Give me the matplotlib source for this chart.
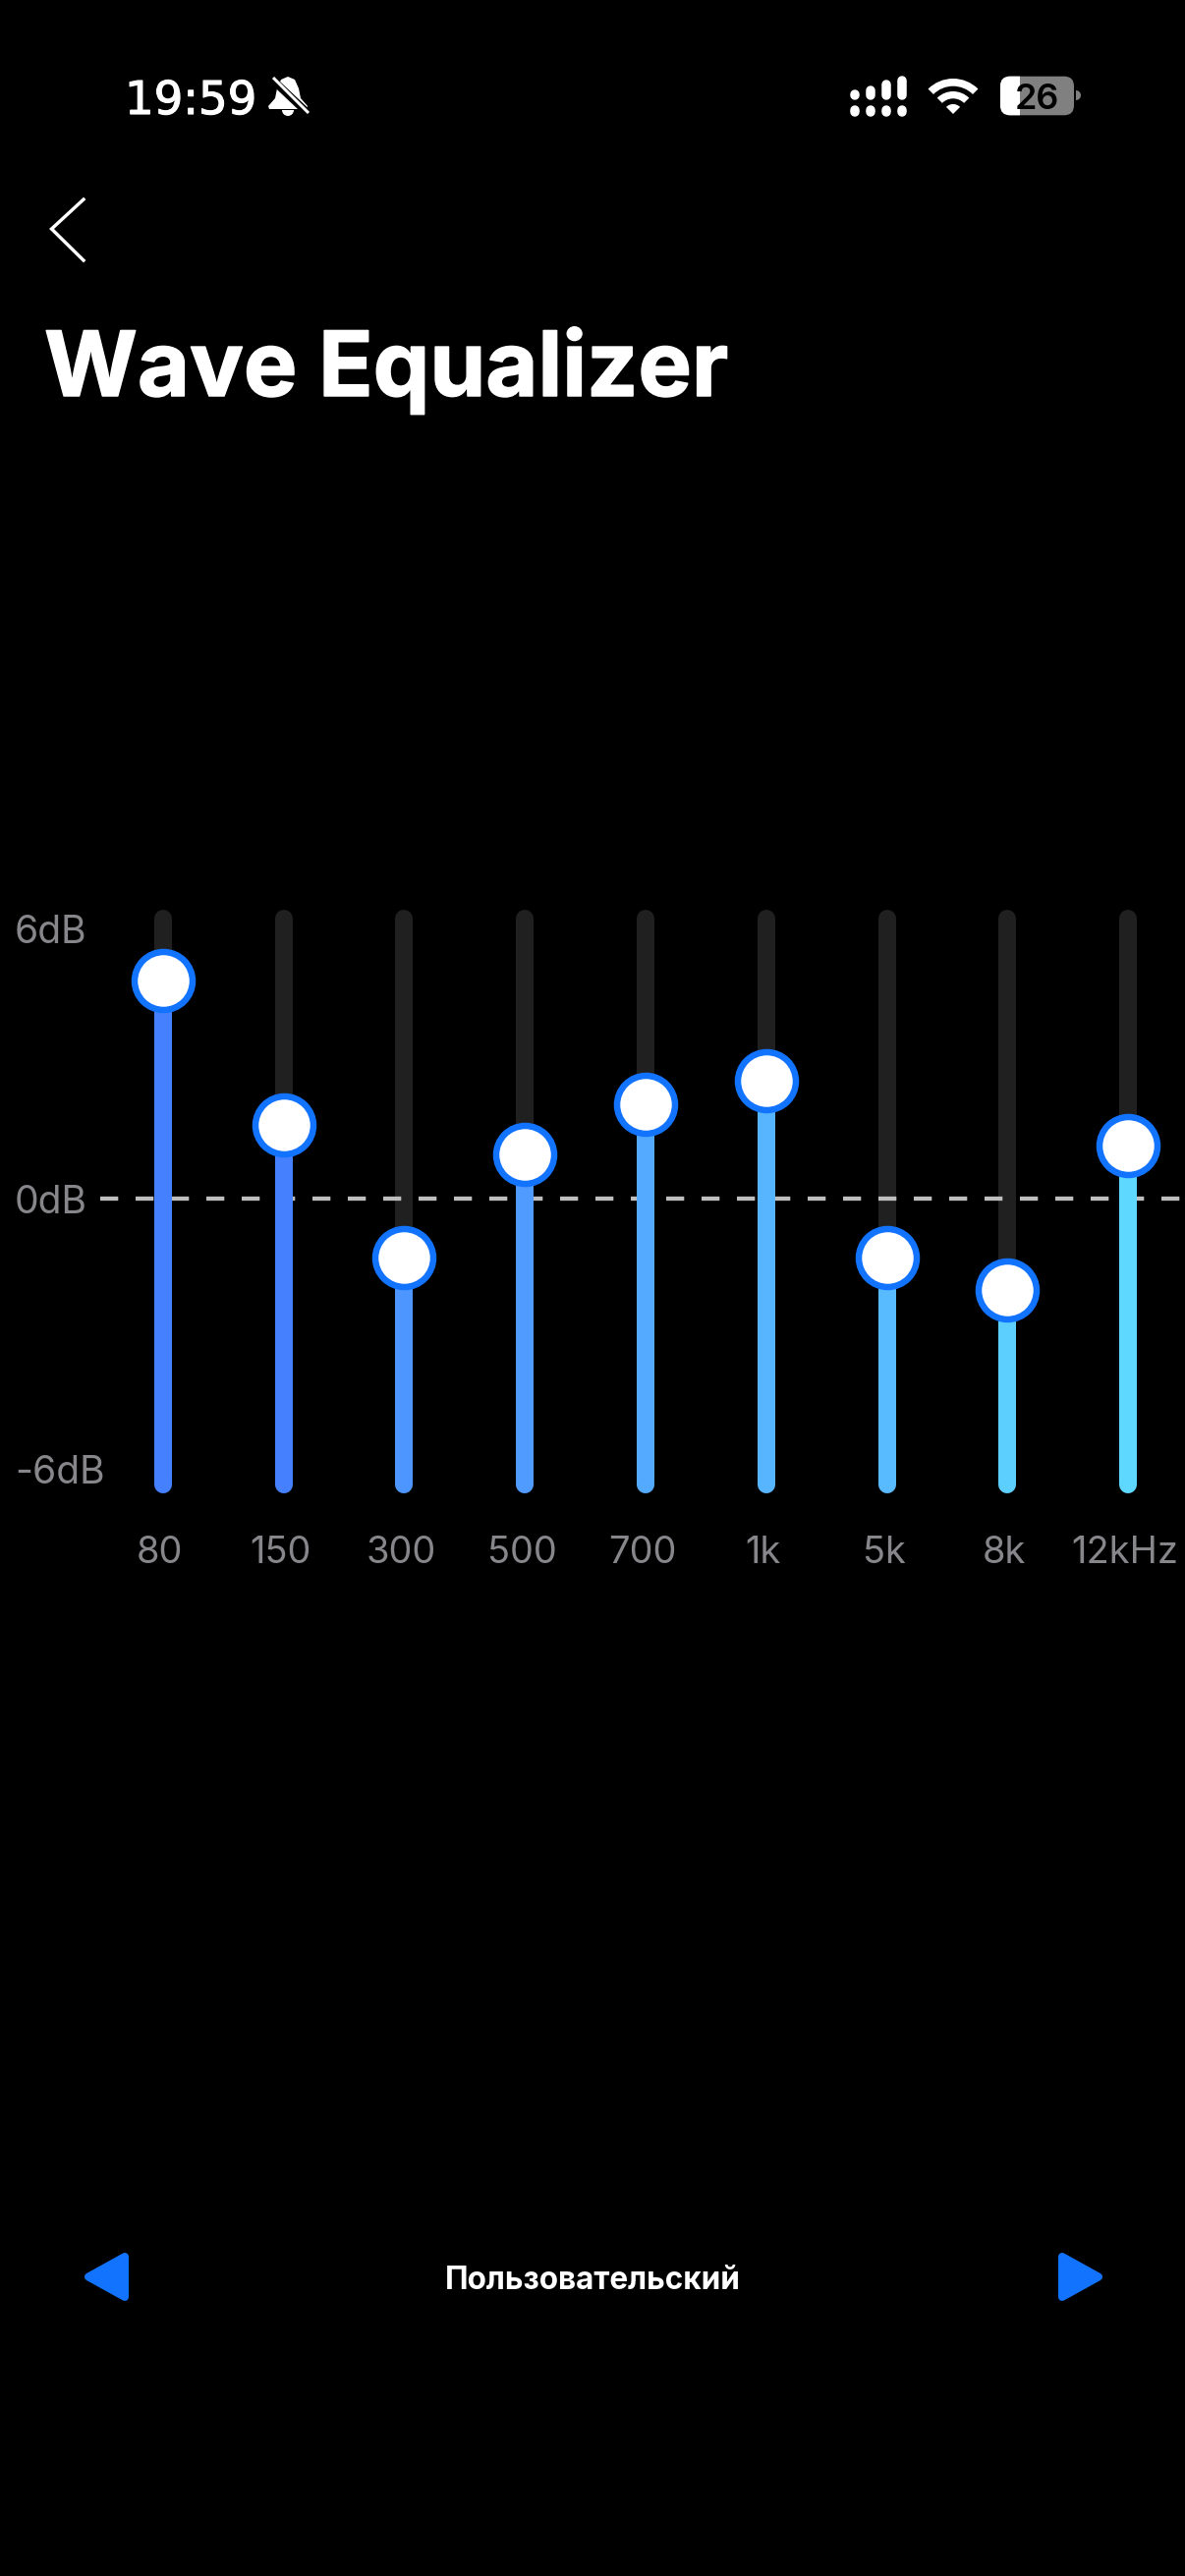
import matplotlib
matplotlib.use("Agg")
import matplotlib.pyplot as plt
import matplotlib.patheffects as pe
from matplotlib.patches import FancyBboxPatch, Polygon, Rectangle, Wedge
from matplotlib.transforms import blended_transform_factory

W, H = 1206, 2622
DPI = 100
px = 72 / DPI  # one pixel in points

# --- data ---
bands = ["80", "150", "300", "500", "700", "1k", "5k", "8k", "12kHz"]
gains = [4.85, 1.64, -1.30, 0.99, 2.10, 2.63, -1.30, -2.03, 1.18]
band_colors = ["#4580FF", "#4580FF", "#4D96FF", "#4F9BFF", "#54AAFF",
               "#57B4FF", "#58BBFF", "#5CCFFF", "#5FD8FF"]
db_ticks = [6, 0, -6]
db_labels = ["6dB", "0dB", "-6dB"]

track_top = 6.22
track_bottom = -6.35

GREY = "#86868B"
BLUE = "#1273FF"
plt.rcParams["font.family"] = ["Inter", "DejaVu Sans"]

fig = plt.figure(figsize=(W / DPI, H / DPI), dpi=DPI, facecolor="black")

# --- pixel layer for the phone chrome ---
ui = fig.add_axes([0, 0, 1, 1], zorder=1)
ui.set_xlim(0, W)
ui.set_ylim(H, 0)
ui.axis("off")

# --- equalizer axes: x = band index, y = dB ---
ax = fig.add_axes([0, (H - 1520) / H, 1, 594 / H], zorder=2)
ax.patch.set_alpha(0)
ax.set_xlim(-165.7 / 122.8, (W - 165.7) / 122.8)
ax.set_ylim(-6.55, 6.42)
ax.axis("off")

xs = list(range(len(bands)))
ax.vlines(xs, track_bottom, track_top, color="#202020", lw=18 * px, capstyle="round", zorder=1)
ax.plot([-0.52, 8.47], [0, 0], color="#BEBEBE", lw=4.3 * px, zorder=2,
        dashes=(18.3 / 4.3, 17.7 / 4.3), dash_capstyle="butt", clip_on=False)
ax.vlines(xs, track_bottom, gains, color=band_colors, lw=18 * px, capstyle="round", zorder=3)
ax.scatter(xs, gains, s=(59 * px) ** 2, facecolor="white", edgecolor=BLUE,
           linewidth=6.5 * px, zorder=4, clip_on=False)

# band labels under the tracks
for x, name in zip(xs, bands):
    ax.annotate(name, (x, track_bottom), xytext=(-3, -80), textcoords="offset pixels",
                ha="center", va="baseline", color=GREY, fontsize=38 * px, fontweight="normal",
                annotation_clip=False)

# dB labels on the left edge
tr = blended_transform_factory(ax.transAxes, ax.transData)
for d, lab in zip(db_ticks, db_labels):
    ax.annotate(lab, (15 / W, d), xycoords=tr, xytext=(0, -15), textcoords="offset pixels",
                ha="left", va="baseline", color=GREY, fontsize=39 * px, fontweight="normal",
                annotation_clip=False)

# --- status bar ---
ui.text(127, 116, "19:59", color="white", fontsize=46.6 * px, family="DejaVu Sans", ha="left", va="baseline",
        path_effects=[pe.withStroke(linewidth=1.2 * px, foreground="white")])

# bell with slash
bell = [(293, 78), (300, 81), (304, 90), (306, 100), (313, 108), (312, 111), (274, 111),
        (273, 108), (280, 100), (282, 90), (286, 81)]
ui.add_patch(Polygon(bell, closed=True, color="white", lw=0))
ui.add_patch(Wedge((293, 112), 6, 0, 180, color="white", lw=0))
ui.plot([276, 313], [80, 115], color="black", lw=8 * px, solid_capstyle="butt")
ui.plot([278, 314], [79, 115], color="white", lw=3 * px, solid_capstyle="butt")

# signal dots and bars
sig_x = [869.7, 886, 902, 917.7]
sig_top = [91, 87, 81.7, 77.7]
for x, top in zip(sig_x, sig_top):
    ui.plot([x, x], [111.5, 113.5], color="white", lw=9.5 * px, solid_capstyle="round")
    ui.plot([x, x], [top + 4.7, 97], color="white", lw=9.5 * px, solid_capstyle="round")

# wifi
tip = (970, 116)
ui.add_patch(Wedge(tip, 10, -135, -45, color="white", lw=0))
ui.add_patch(Wedge(tip, 23, -135, -45, width=7.3, color="white", lw=0))
ui.add_patch(Wedge(tip, 36, -135, -45, width=7.7, color="white", lw=0))

# battery
ui.add_patch(FancyBboxPatch((1028, 87.7), 55, 19.6, boxstyle="round,pad=10", color="#808080", lw=0))
white_part = FancyBboxPatch((1028, 87.7), 55, 19.6, boxstyle="round,pad=10", color="white", lw=0)
ui.add_patch(white_part)
white_part.set_clip_path(Rectangle((1018, 70), 19.7, 55, transform=ui.transData))
ui.add_patch(Wedge((1095, 97), 5, -90, 90, color="#808080", lw=0))
ui.text(1055, 111, "26", color="black", fontsize=36 * px, fontweight="semibold", ha="center", va="baseline")

# back chevron
ui.plot([85, 52.5, 85], [203, 233, 265], color="white", lw=3.4 * px, solid_joinstyle="miter")

# title
ui.text(45, 403, "Wave Equalizer", color="white", fontsize=91.5 * px, fontweight="bold", ha="left", va="baseline",
        path_effects=[pe.withStroke(linewidth=1.5 * px, foreground="white")])

# preset selector
ui.text(603.5, 2330, "Пользовательский", color="white", fontsize=31.5 * px, fontweight="bold",
        ha="center", va="baseline")
for tri in ([(127, 2297), (127, 2338), (90, 2317.5)], [(1081, 2297), (1081, 2338), (1118, 2317.5)]):
    ui.add_patch(Polygon(tri, closed=True, facecolor=BLUE, edgecolor=BLUE, lw=8 * px, joinstyle="round"))

fig.savefig("out.png", dpi=DPI, facecolor="black")
